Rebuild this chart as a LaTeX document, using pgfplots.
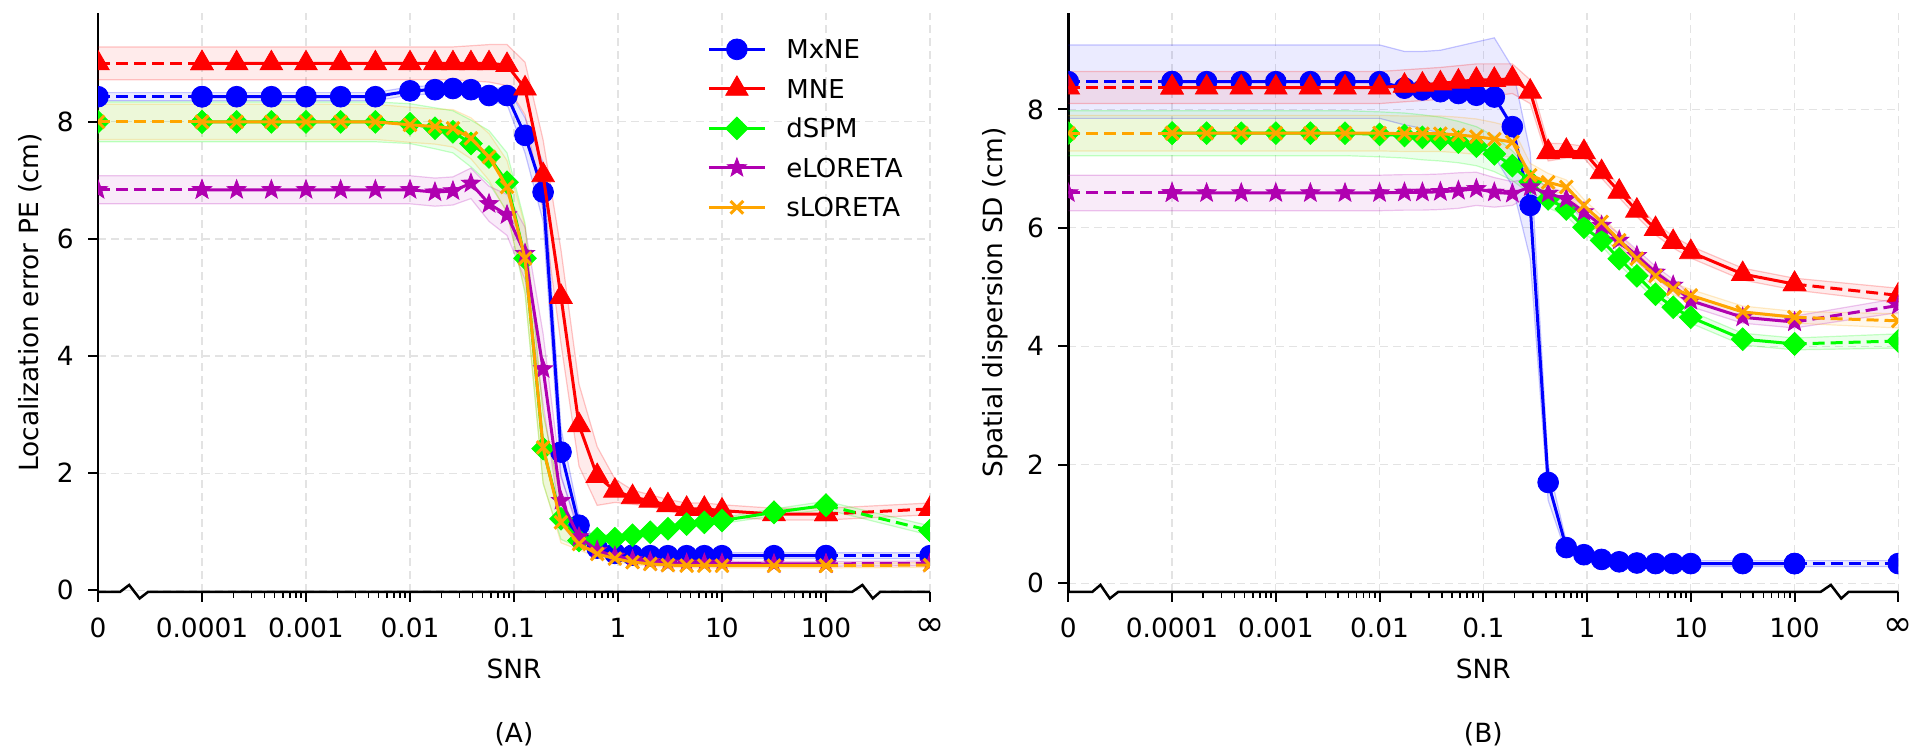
\documentclass[border=0pt]{standalone}
\usepackage{fontspec}
\setmainfont{DejaVu Sans}
\usepackage{pgfplots}
\usepackage{pgfplotstable}
\pgfplotsset{compat=1.18}
\usepgfplotslibrary{fillbetween}
\usetikzlibrary{plotmarks}

\definecolor{cB}{HTML}{0000FF}
\definecolor{cR}{HTML}{FF0000}
\definecolor{cG}{HTML}{00FF00}
\definecolor{cP}{HTML}{B000B0}
\definecolor{cO}{HTML}{FFA500}

\pgfdeclareplotmark{fstar}{%
  \pgfpathmoveto{\pgfpointpolar{90}{\pgfplotmarksize}}%
  \pgfpathlineto{\pgfpointpolar{126}{0.42\pgfplotmarksize}}%
  \pgfpathlineto{\pgfpointpolar{162}{\pgfplotmarksize}}%
  \pgfpathlineto{\pgfpointpolar{198}{0.42\pgfplotmarksize}}%
  \pgfpathlineto{\pgfpointpolar{234}{\pgfplotmarksize}}%
  \pgfpathlineto{\pgfpointpolar{270}{0.42\pgfplotmarksize}}%
  \pgfpathlineto{\pgfpointpolar{306}{\pgfplotmarksize}}%
  \pgfpathlineto{\pgfpointpolar{342}{0.42\pgfplotmarksize}}%
  \pgfpathlineto{\pgfpointpolar{18}{\pgfplotmarksize}}%
  \pgfpathlineto{\pgfpointpolar{54}{0.42\pgfplotmarksize}}%
  \pgfpathclose
  \pgfusepathqfillstroke
}

% x = log10(SNR); x=-5 stands for SNR=0, x=3 for SNR=infinity
\pgfplotstableread{
x      b     bd    r     rd    g     gd    p     pd    o     od
-5     8.43  0.07  9.00  0.28  8.00  0.34  6.84  0.24  8.00  0.30
-4     8.43  0.07  9.00  0.28  8.00  0.34  6.84  0.24  8.00  0.30
-3.667 8.43  0.07  9.00  0.28  8.00  0.34  6.84  0.24  8.00  0.30
-3.333 8.43  0.07  9.00  0.28  8.00  0.34  6.84  0.24  8.00  0.30
-3     8.43  0.07  9.00  0.28  8.00  0.34  6.84  0.24  8.00  0.30
-2.667 8.43  0.07  9.00  0.28  8.00  0.34  6.84  0.24  8.00  0.30
-2.333 8.43  0.07  9.00  0.28  8.00  0.34  6.84  0.24  8.00  0.30
-2     8.53  0.07  9.00  0.28  7.97  0.34  6.84  0.24  7.95  0.30
-1.76  8.55  0.07  9.00  0.28  7.89  0.35  6.80  0.24  7.92  0.30
-1.587 8.57  0.07  9.00  0.28  7.83  0.36  6.82  0.24  7.89  0.32
-1.414 8.55  0.08  9.00  0.30  7.63  0.40  6.95  0.26  7.72  0.35
-1.24  8.45  0.10  9.00  0.32  7.40  0.45  6.60  0.30  7.40  0.40
-1.067 8.45  0.15  8.97  0.35  6.97  0.50  6.41  0.35  6.89  0.45
-0.894 7.77  0.30  8.57  0.45  5.67  0.60  5.75  0.45  5.67  0.55
-0.72  6.80  0.50  7.09  0.60  2.42  0.60  3.78  0.60  2.44  0.60
-0.548 2.36  0.40  5.01  0.80  1.22  0.35  1.53  0.40  1.16  0.35
-0.375 1.11  0.15  2.82  0.70  0.85  0.12  0.91  0.15  0.79  0.10
-0.2   0.72  0.08  1.95  0.50  0.88  0.08  0.68  0.08  0.62  0.06
-0.03  0.63  0.06  1.70  0.20  0.88  0.06  0.58  0.05  0.54  0.05
0.14   0.60  0.05  1.59  0.12  0.94  0.05  0.52  0.04  0.48  0.04
0.31   0.59  0.05  1.53  0.10  0.99  0.05  0.49  0.04  0.45  0.04
0.48   0.59  0.05  1.45  0.10  1.05  0.05  0.46  0.04  0.43  0.04
0.66   0.59  0.05  1.39  0.10  1.13  0.05  0.46  0.04  0.42  0.04
0.83   0.59  0.05  1.39  0.10  1.16  0.05  0.46  0.04  0.42  0.04
1.0    0.59  0.05  1.36  0.10  1.19  0.05  0.46  0.04  0.42  0.04
1.5    0.59  0.05  1.30  0.10  1.33  0.06  0.45  0.04  0.42  0.04
2.0    0.59  0.05  1.30  0.10  1.45  0.07  0.45  0.04  0.42  0.04
3      0.59  0.05  1.39  0.10  1.02  0.08  0.46  0.04  0.43  0.04
}\dataA

\pgfplotstableread{
x      b     bd    r     rd    g     gd    p     pd    o     od
-5     8.47  0.62  8.37  0.27  7.60  0.38  6.59  0.30  7.60  0.30
-4     8.47  0.62  8.37  0.27  7.60  0.38  6.59  0.30  7.60  0.30
-3.667 8.47  0.62  8.37  0.27  7.60  0.38  6.59  0.30  7.60  0.30
-3.333 8.47  0.62  8.37  0.27  7.60  0.38  6.59  0.30  7.60  0.30
-3     8.47  0.62  8.37  0.27  7.60  0.38  6.59  0.30  7.60  0.30
-2.667 8.47  0.62  8.37  0.27  7.60  0.38  6.59  0.30  7.60  0.30
-2.333 8.47  0.62  8.37  0.27  7.60  0.38  6.59  0.30  7.60  0.30
-2     8.47  0.62  8.37  0.27  7.58  0.38  6.59  0.30  7.60  0.30
-1.76  8.36  0.62  8.40  0.27  7.56  0.38  6.60  0.30  7.59  0.30
-1.587 8.33  0.65  8.42  0.27  7.53  0.38  6.60  0.30  7.59  0.30
-1.414 8.30  0.70  8.44  0.27  7.50  0.37  6.61  0.30  7.59  0.30
-1.24  8.27  0.80  8.47  0.27  7.45  0.35  6.63  0.30  7.57  0.30
-1.067 8.24  0.90  8.50  0.27  7.38  0.33  6.66  0.28  7.54  0.30
-0.894 8.21  1.00  8.50  0.27  7.25  0.30  6.60  0.25  7.50  0.28
-0.72  7.71  1.00  8.52  0.25  7.05  0.25  6.58  0.20  7.45  0.25
-0.548 6.38  0.90  8.30  0.20  6.78  0.20  6.69  0.15  6.89  0.20
-0.375 1.70  0.30  7.28  0.15  6.49  0.15  6.58  0.12  6.77  0.15
-0.2   0.60  0.10  7.30  0.12  6.32  0.12  6.49  0.10  6.69  0.12
-0.03  0.48  0.06  7.28  0.10  6.01  0.10  6.27  0.10  6.38  0.10
0.14   0.40  0.05  6.94  0.10  5.79  0.10  6.04  0.10  6.10  0.10
0.31   0.36  0.05  6.61  0.10  5.48  0.10  5.79  0.10  5.79  0.10
0.48   0.34  0.05  6.29  0.10  5.19  0.10  5.53  0.10  5.48  0.10
0.66   0.33  0.05  5.98  0.10  4.88  0.10  5.25  0.10  5.19  0.10
0.83   0.33  0.05  5.76  0.10  4.66  0.10  5.03  0.10  4.97  0.10
1.0    0.33  0.05  5.59  0.10  4.49  0.10  4.77  0.10  4.86  0.10
1.5    0.33  0.05  5.22  0.10  4.12  0.10  4.49  0.10  4.58  0.10
2.0    0.33  0.05  5.05  0.10  4.04  0.10  4.41  0.10  4.49  0.10
3      0.33  0.05  4.86  0.12  4.09  0.12  4.69  0.12  4.43  0.12
}\dataB

\newcommand{\fs}{\fontsize{13.2}{15.8}\selectfont}

\pgfplotsset{
  panel/.style={
    scale only axis, width=416pt, height=289.5pt,
    xmin=-5, xmax=3,
    axis lines*=left,
    x axis line style={draw=none},
    y axis line style={line width=1.25pt, black},
    xtick={-5,-4,-3,-2,-1,0,1,2,3},
    xticklabels={0,0.0001,0.001,0.01,0.1,1,10,100,{\fontsize{17.5}{17.5}\selectfont ∞}},
    minor xtick={-3.699,-3.523,-3.398,-3.301,-3.222,-3.155,-3.097,-3.046,
                 -2.699,-2.523,-2.398,-2.301,-2.222,-2.155,-2.097,-2.046,
                 -1.699,-1.523,-1.398,-1.301,-1.222,-1.155,-1.097,-1.046,
                 -0.699,-0.523,-0.398,-0.301,-0.222,-0.155,-0.097,-0.046,
                 0.301,0.477,0.602,0.699,0.778,0.845,0.903,0.954,
                 1.301,1.477,1.602,1.699,1.778,1.845,1.903,1.954},
    ytick={0,2,4,6,8},
    /pgf/number format/assume math mode=true,
    tick align=outside,
    major tick length=5pt, minor tick length=3pt,
    every tick/.style={black, line width=1pt},
    minor tick style={line width=0.8pt},
    xmajorgrids, ymajorgrids,
    major grid style={gray!22, line width=0.6pt, dash pattern=on 4pt off 2.5pt},
    tick label style={font=\fs},
    xticklabel style={anchor=north, inner sep=0pt, yshift=-8pt},
    yticklabel style={anchor=east, inner sep=0pt, xshift=-7pt},
    label style={font=\fs},
    xlabel={SNR},
    xlabel style={at={(axis description cs:0.5,-0.132)}, anchor=center},
    clip marker paths=true,
  },
  sB/.style={cB, line width=1.5pt, mark=*, mark size=5.2pt, mark options={solid, fill=cB, draw=cB, line width=0.4pt}},
  sR/.style={cR, line width=1.5pt, mark=triangle*, mark size=6.5pt, mark options={solid, fill=cR, draw=cR, line width=0.4pt}},
  sG/.style={cG, line width=1.5pt, mark=square*, mark size=4pt, mark options={solid, rotate=45, fill=cG, draw=cG, line width=0.4pt}},
  sP/.style={cP, line width=1.5pt, mark=fstar, mark size=5pt, mark options={solid, fill=cP, draw=cP, line width=0.4pt}},
  sO/.style={cO, line width=1.5pt, mark=x, mark size=4.5pt, mark options={solid, draw=cO, line width=1.5pt}},
  mid/.style={restrict x to domain=-4.01:2.01},
  lft/.style={restrict x to domain=-5.01:-3.99, dash pattern=on 6pt off 3pt, forget plot},
  rgt/.style={restrict x to domain=1.99:3.01, dash pattern=on 6pt off 3pt, forget plot},
}

% band: #1 table, #2 value column, #3 deviation column, #4 colour, #5 unique prefix
\newcommand{\band}[5]{%
  \addplot[draw=#4, draw opacity=0.22, line width=0.6pt, name path=#5U, forget plot]
    table[x=x, y expr=\thisrow{#2}+\thisrow{#3}] {#1};
  \addplot[draw=#4, draw opacity=0.22, line width=0.6pt, name path=#5L, forget plot]
    table[x=x, y expr=\thisrow{#2}-\thisrow{#3}] {#1};
  \addplot[fill=#4, fill opacity=0.08, draw=none, forget plot] fill between[of=#5U and #5L];
}
% series: #1 table, #2 column, #3 style
\newcommand{\series}[3]{%
  \addplot[#3, lft] table[x=x, y=#2] {#1};
  \addplot[#3, rgt] table[x=x, y=#2] {#1};
  \addplot[#3, mid] table[x=x, y=#2] {#1};
}

\begin{document}
\begin{tikzpicture}

% ---------------- Panel A ----------------
\begin{axis}[panel,
  at={(49pt,81pt)}, anchor=south west,
  ymin=-0.03, ymax=9.86,
  ylabel={Localization error PE (cm)},
  ylabel style={at={(axis description cs:-0.0817,0.5)}, anchor=center},
  legend style={draw=none, fill=none, at={(0.732,0.972)}, anchor=north west,
    font=\fontsize{13}{15}\selectfont, row sep=0pt, inner sep=0pt,
    nodes={inner sep=0pt, minimum height=19.75pt, text height=9.4pt, text depth=0pt}},
  legend cell align=left,
  legend image code/.code={\draw[mark repeat=2,mark phase=2,#1] plot coordinates {(0pt,0pt) (14pt,0pt) (28pt,0pt)}; \path (38pt,0pt);},
  after end axis/.code={
    \draw[black, line width=1.25pt] (axis cs:-5,-0.03) -- (axis cs:-4.79,-0.03) -- (axis cs:-4.70,0.09)
      -- (axis cs:-4.60,-0.14) -- (axis cs:-4.52,-0.03) -- (axis cs:2.25,-0.03) -- (axis cs:2.35,0.09)
      -- (axis cs:2.45,-0.14) -- (axis cs:2.52,-0.03) -- (axis cs:3,-0.03);
    \node[font=\fs] at (axis description cs:0.5,-0.246) {(A)};
  },
]
\band{\dataA}{b}{bd}{cB}{aB}
\band{\dataA}{r}{rd}{cR}{aR}
\band{\dataA}{g}{gd}{cG}{aG}
\band{\dataA}{p}{pd}{cP}{aP}
\band{\dataA}{o}{od}{cO}{aO}
\series{\dataA}{b}{sB}\addlegendentry{MxNE}
\series{\dataA}{r}{sR}\addlegendentry{MNE}
\series{\dataA}{g}{sG}\addlegendentry{dSPM}
\series{\dataA}{p}{sP}\addlegendentry{eLORETA}
\series{\dataA}{o}{sO}\addlegendentry{sLORETA}
\end{axis}

% ---------------- Panel B ----------------
\begin{axis}[panel,
  at={(534.15pt,81pt)}, anchor=south west, width=415pt,
  ymin=-0.15, ymax=9.63,
  ylabel={Spatial dispersion SD (cm)},
  ylabel style={at={(axis description cs:-0.088,0.5)}, anchor=center},
  after end axis/.code={
    \draw[black, line width=1.25pt] (axis cs:-5,-0.15) -- (axis cs:-4.77,-0.15) -- (axis cs:-4.69,-0.03)
      -- (axis cs:-4.60,-0.26) -- (axis cs:-4.52,-0.15) -- (axis cs:2.25,-0.15) -- (axis cs:2.35,-0.03)
      -- (axis cs:2.45,-0.26) -- (axis cs:2.52,-0.15) -- (axis cs:3,-0.15);
    \node[font=\fs] at (axis description cs:0.5,-0.246) {(B)};
  },
]
\band{\dataB}{b}{bd}{cB}{bB}
\band{\dataB}{r}{rd}{cR}{bR}
\band{\dataB}{g}{gd}{cG}{bG}
\band{\dataB}{p}{pd}{cP}{bP}
\band{\dataB}{o}{od}{cO}{bO}
\series{\dataB}{b}{sB}
\series{\dataB}{r}{sR}
\series{\dataB}{g}{sG}
\series{\dataB}{p}{sP}
\series{\dataB}{o}{sO}
\end{axis}

\pgfresetboundingbox
\path[use as bounding box] (0,0) rectangle (960pt,377pt);
\end{tikzpicture}
\end{document}
